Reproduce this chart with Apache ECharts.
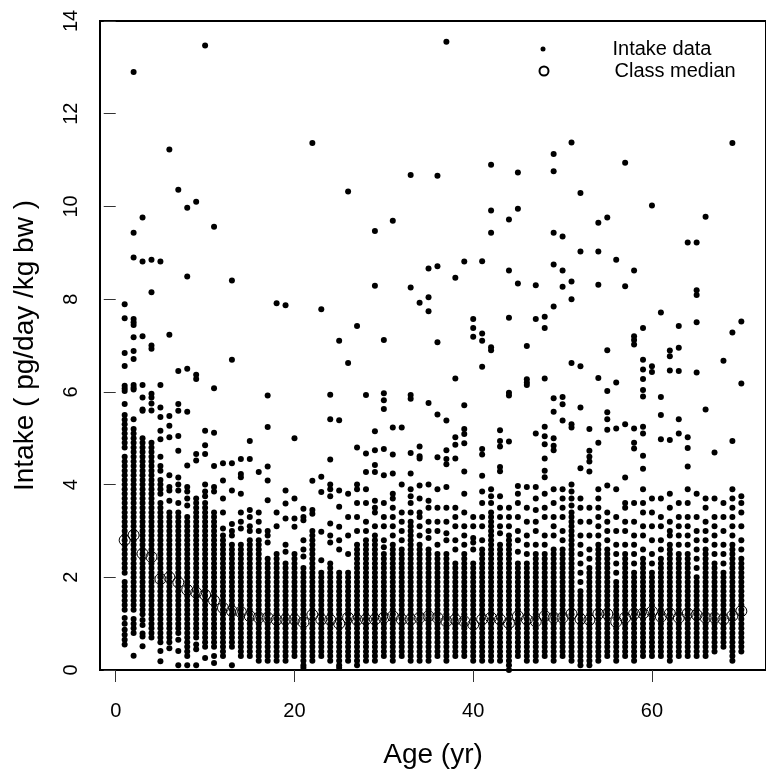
<!DOCTYPE html>
<html><head><meta charset="utf-8">
<script src="https://cdn.jsdelivr.net/npm/echarts@6/dist/echarts.min.js"></script>
<style>html,body{margin:0;padding:0;background:#fff}#chart{width:766px;height:774px}</style>
</head><body><div id="chart"></div>
<script>
const ages = [1,2,3,4,5,6,7,8,9,10,11,12,13,14,15,16,17,18,19,20,21,22,23,24,25,26,27,28,29,30,31,32,33,34,35,36,37,38,39,40,41,42,43,44,45,46,47,48,49,50,51,52,53,54,55,56,57,58,59,60,61,62,63,64,65,66,67,68,69,70];
const medians = [2.80,2.91,2.51,2.44,1.96,2.00,1.89,1.73,1.67,1.62,1.50,1.34,1.27,1.25,1.16,1.13,1.13,1.08,1.09,1.09,1.03,1.19,1.09,1.08,1.00,1.13,1.08,1.09,1.09,1.13,1.16,1.09,1.09,1.13,1.16,1.13,1.05,1.09,1.05,0.98,1.09,1.13,1.09,1.01,1.16,1.09,1.05,1.16,1.13,1.13,1.21,1.10,1.08,1.21,1.21,1.04,1.13,1.21,1.22,1.26,1.15,1.22,1.13,1.22,1.19,1.13,1.13,1.09,1.17,1.27];
const xTickValues = [0,20,40,60];
const seriesNames = ['Intake data','Class median'];
const intakeByAge = [
[7.89,7.59,6.84,6.56,6.13,6.07,6.02,5.74,5.5,5.4,5.3,5.2,5.1,5.0,4.9,4.8,4.6,4.5,4.4,4.3,4.2,4.1,4.0,3.9,3.8,3.7,3.6,3.5,3.4,3.3,3.2,3.1,3.0,2.9,2.8,2.7,2.6,2.5,2.4,2.3,2.2,2.1,1.9,1.8,1.7,1.6,1.5,1.4,1.3,1.12,1.0,0.87,0.76,0.65,0.55],
[12.9,9.43,8.9,7.57,7.5,7.44,7.18,6.88,6.71,6.15,6.09,6.05,5.41,5.2,5.1,5.0,4.9,4.8,4.7,4.6,4.5,4.4,4.3,4.2,4.1,4.0,3.9,3.8,3.7,3.6,3.5,3.4,3.3,3.2,3.1,3.0,2.9,2.8,2.7,2.6,2.5,2.4,2.3,2.2,2.1,2.0,1.9,1.8,1.7,1.6,1.5,1.4,1.3,1.1,1.0,0.9,0.8,0.31],
[9.76,8.81,7.2,6.15,5.88,5.62,5.59,5.0,4.9,4.8,4.7,4.6,4.5,4.4,4.3,4.2,4.1,4.0,3.9,3.8,3.7,3.6,3.5,3.4,3.3,3.2,3.1,3.0,2.9,2.8,2.7,2.6,2.5,2.4,2.3,2.2,2.1,2.0,1.9,1.8,1.7,1.6,1.5,1.4,1.3,1.2,1.08,0.97,0.79,0.72,0.51],
[8.85,8.15,7.0,6.93,5.96,5.88,5.75,5.6,4.9,4.8,4.7,4.6,4.5,4.4,4.3,4.2,4.1,4.0,3.9,3.8,3.7,3.6,3.5,3.4,3.3,3.2,3.1,3.0,2.9,2.8,2.7,2.6,2.5,2.4,2.3,2.2,2.1,2.0,1.9,1.8,1.7,1.6,1.5,1.4,1.3,1.2,1.1,1.0,0.9,0.8,0.7],
[8.81,6.15,5.66,5.46,5.16,4.98,4.6,4.4,4.3,4.1,4.0,3.9,3.8,3.6,3.5,3.4,3.3,3.2,3.1,3.0,2.9,2.8,2.7,2.6,2.5,2.4,2.3,2.2,2.1,2.0,1.9,1.8,1.7,1.6,1.5,1.4,1.3,1.2,1.1,1.0,0.9,0.8,0.7,0.6,0.41,0.19],
[11.23,7.23,5.48,5.27,5.02,4.2,3.95,3.87,3.65,3.4,3.3,3.2,3.1,3.0,2.9,2.8,2.7,2.6,2.5,2.4,2.3,2.2,2.1,2.0,1.9,1.8,1.7,1.6,1.5,1.4,1.3,1.2,1.1,1.0,0.9,0.8,0.7,0.6,0.47],
[10.36,6.45,5.74,5.59,5.05,4.73,4.15,4.0,3.87,3.6,3.4,3.3,3.2,3.1,3.0,2.9,2.8,2.7,2.6,2.5,2.4,2.3,2.2,2.1,2.0,1.9,1.8,1.7,1.6,1.5,1.4,1.3,1.2,1.1,1.0,0.9,0.8,0.65,0.41,0.1],
[9.97,8.49,6.5,5.57,4.41,3.95,3.85,3.7,3.55,3.3,3.2,3.1,3.0,2.9,2.8,2.7,2.6,2.5,2.4,2.3,2.2,2.1,2.0,1.9,1.8,1.7,1.6,1.5,1.4,1.3,1.2,1.1,1.0,0.9,0.8,0.7,0.6,0.5,0.4,0.3,0.1],
[10.1,6.37,6.28,4.66,4.52,3.7,3.6,3.5,3.4,3.3,3.2,3.1,3.0,2.9,2.8,2.7,2.6,2.5,2.4,2.3,2.2,2.1,2.0,1.9,1.8,1.7,1.6,1.5,1.4,1.3,1.2,1.1,1.0,0.9,0.8,0.7,0.55,0.45,0.1],
[13.47,5.16,4.85,4.66,4.0,3.85,3.75,3.6,3.5,3.4,3.3,3.2,3.1,3.0,2.9,2.8,2.7,2.6,2.5,2.4,2.3,2.2,2.1,2.0,1.9,1.8,1.7,1.6,1.5,1.4,1.3,1.2,1.1,1.0,0.9,0.8,0.7,0.6,0.5,0.26],
[9.56,6.08,5.12,4.4,3.95,3.85,3.4,3.3,3.2,3.1,3.0,2.9,2.8,2.7,2.6,2.5,2.4,2.3,2.2,2.1,2.0,1.9,1.8,1.7,1.6,1.5,1.4,1.3,1.2,1.1,1.0,0.9,0.8,0.7,0.6,0.5,0.3,0.15],
[4.46,4.09,3.7,3.4,3.05,2.9,2.8,2.7,2.6,2.5,2.4,2.3,2.2,2.1,2.0,1.9,1.8,1.7,1.6,1.5,1.4,1.3,1.2,1.1,1.0,0.9,0.8,0.7,0.6,0.5,0.4,0.3],
[8.4,6.69,4.46,3.87,3.15,3.0,2.9,2.7,2.6,2.5,2.4,2.3,2.2,2.1,2.0,1.9,1.8,1.7,1.6,1.5,1.4,1.3,1.2,1.1,1.0,0.9,0.8,0.7,0.6,0.5,0.1],
[4.55,4.23,4.16,3.8,3.4,3.2,3.05,2.7,2.6,2.5,2.4,2.3,2.2,2.1,2.0,1.9,1.8,1.7,1.6,1.5,1.4,1.3,1.2,1.1,1.0,0.9,0.8,0.7,0.6,0.5,0.4,0.3],
[4.94,4.55,3.45,3.3,3.1,3.0,2.8,2.7,2.6,2.5,2.4,2.3,2.2,2.1,2.0,1.9,1.8,1.7,1.6,1.5,1.4,1.3,1.2,1.1,1.0,0.9,0.8,0.7,0.6,0.5,0.4,0.3],
[4.27,3.4,3.2,3.0,2.8,2.7,2.6,2.5,2.4,2.3,2.2,2.1,2.0,1.9,1.8,1.7,1.6,1.5,1.4,1.3,1.2,1.1,1.0,0.9,0.8,0.7,0.6,0.5,0.4,0.3,0.2],
[5.92,5.24,4.39,4.09,3.66,3.0,2.9,2.75,2.4,2.3,2.2,2.1,2.0,1.9,1.8,1.7,1.6,1.5,1.4,1.3,1.2,1.1,1.0,0.9,0.8,0.7,0.6,0.5,0.4,0.3,0.2],
[7.91,3.4,3.1,2.5,2.4,2.3,2.2,2.1,2.0,1.9,1.8,1.7,1.6,1.5,1.4,1.3,1.2,1.1,1.0,0.9,0.8,0.7,0.6,0.5,0.4,0.3,0.2],
[7.87,3.87,3.59,3.27,2.7,2.55,2.3,2.2,2.1,2.0,1.9,1.8,1.7,1.6,1.5,1.4,1.3,1.2,1.1,1.0,0.9,0.8,0.7,0.6,0.5,0.4,0.3,0.2],
[5.0,3.7,3.27,3.09,2.5,2.4,2.3,2.2,2.1,2.0,1.9,1.8,1.7,1.6,1.5,1.4,1.3,1.2,1.1,1.0,0.9,0.8,0.7,0.6,0.5,0.4,0.3],
[3.48,3.3,3.23,2.8,2.6,2.45,2.2,2.1,2.0,1.9,1.8,1.7,1.6,1.5,1.4,1.3,1.2,1.1,1.0,0.9,0.8,0.7,0.6,0.5,0.4,0.3,0.2,0.1,0.05],
[11.37,4.08,3.45,3.37,3.0,2.9,2.8,2.7,2.6,2.5,2.4,2.3,2.2,2.1,2.0,1.9,1.8,1.7,1.6,1.5,1.4,1.3,1.2,1.1,1.0,0.9,0.8,0.7,0.6,0.5,0.4,0.3,0.2],
[7.78,4.17,3.84,2.98,2.37,2.1,2.0,1.9,1.8,1.7,1.6,1.5,1.4,1.3,1.2,1.1,1.0,0.9,0.8,0.7,0.6,0.5,0.4,0.3],
[5.94,5.41,4.54,4.0,3.9,3.75,3.16,2.9,2.75,2.3,2.2,2.1,2.0,1.9,1.8,1.7,1.6,1.5,1.4,1.3,1.2,1.1,1.0,0.9,0.8,0.7,0.6,0.5,0.4,0.3,0.2],
[7.1,5.39,3.87,3.52,3.09,2.8,2.6,2.1,2.0,1.9,1.8,1.7,1.6,1.5,1.4,1.3,1.2,1.1,1.0,0.9,0.8,0.7,0.6,0.5,0.4,0.3,0.2,0.1,0.05],
[10.32,6.62,3.8,3.3,2.9,2.5,2.1,2.0,1.9,1.8,1.7,1.6,1.5,1.4,1.3,1.2,1.1,1.0,0.9,0.8,0.7,0.6,0.5,0.4,0.3,0.2],
[7.42,4.8,4.0,3.9,3.6,3.3,3.0,2.7,2.6,2.5,2.4,2.3,2.2,2.1,2.0,1.9,1.8,1.7,1.6,1.5,1.4,1.3,1.2,1.1,1.0,0.9,0.8,0.7,0.6,0.5,0.4,0.3,0.2,0.1],
[5.93,4.67,4.27,3.9,3.6,3.2,3.0,2.8,2.7,2.6,2.5,2.4,2.3,2.2,2.1,2.0,1.9,1.8,1.7,1.6,1.5,1.4,1.3,1.2,1.1,1.0,0.9,0.8,0.7,0.6,0.5,0.4,0.3,0.2],
[9.47,8.29,5.15,4.74,4.42,4.27,3.65,3.5,3.4,3.1,2.9,2.8,2.7,2.6,2.5,2.4,2.3,2.2,2.1,2.0,1.9,1.8,1.7,1.6,1.5,1.4,1.3,1.2,1.1,1.0,0.9,0.8,0.7,0.6,0.5,0.4,0.3,0.2],
[7.12,5.97,5.82,5.63,4.77,4.2,3.6,3.3,3.1,2.8,2.65,2.5,2.4,2.3,2.2,2.1,2.0,1.9,1.8,1.7,1.6,1.5,1.4,1.3,1.2,1.1,1.0,0.9,0.8,0.7,0.6,0.5,0.4,0.3],
[9.69,5.23,4.65,4.24,3.8,3.7,3.5,3.3,3.1,2.9,2.7,2.6,2.5,2.4,2.3,2.2,2.1,2.0,1.9,1.8,1.7,1.6,1.5,1.4,1.3,1.2,1.1,1.0,0.9,0.8,0.7,0.6,0.5,0.4,0.3,0.2],
[5.23,4.0,3.4,3.2,3.0,2.8,2.6,2.5,2.4,2.3,2.2,2.1,2.0,1.9,1.8,1.7,1.6,1.5,1.4,1.3,1.2,1.1,1.0,0.9,0.8,0.7,0.6,0.5,0.4,0.3],
[10.68,8.25,5.93,5.85,4.68,4.24,3.9,3.75,3.6,3.4,3.2,3.1,3.0,2.9,2.8,2.7,2.6,2.5,2.4,2.3,2.2,2.1,2.0,1.9,1.8,1.7,1.6,1.5,1.4,1.3,1.2,1.1,1.0,0.9,0.8,0.7,0.6,0.5,0.4,0.3,0.2],
[7.92,4.82,4.61,4.56,3.98,3.7,3.4,3.3,3.1,2.9,2.7,2.6,2.5,2.4,2.3,2.2,2.1,2.0,1.9,1.8,1.7,1.6,1.5,1.4,1.3,1.2,1.1,1.0,0.9,0.8,0.7,0.6,0.5,0.4,0.3,0.2],
[8.66,8.04,7.74,5.76,4.0,3.65,3.5,3.2,3.0,2.85,2.6,2.5,2.4,2.3,2.2,2.1,2.0,1.9,1.8,1.7,1.6,1.5,1.4,1.3,1.2,1.1,1.0,0.9,0.8,0.7,0.6,0.5,0.4,0.3,0.2],
[10.66,8.71,7.07,5.51,4.59,3.9,3.5,3.2,3.0,2.7,2.5,2.4,2.3,2.2,2.1,2.0,1.9,1.8,1.7,1.6,1.5,1.4,1.3,1.2,1.1,1.0,0.9,0.8,0.7,0.6,0.5,0.4,0.3],
[13.55,5.38,4.74,4.55,4.44,3.95,3.5,3.2,2.95,2.8,2.5,2.4,2.3,2.2,2.1,2.0,1.9,1.8,1.7,1.6,1.5,1.4,1.3,1.2,1.1,1.0,0.9,0.8,0.7,0.6,0.5,0.4,0.3,0.2],
[8.46,6.29,5.02,4.86,4.56,3.5,3.3,3.1,2.8,2.6,2.3,2.2,2.1,2.0,1.9,1.8,1.7,1.6,1.5,1.4,1.3,1.2,1.1,1.0,0.9,0.8,0.7,0.6,0.5,0.4,0.3],
[8.81,5.71,5.2,5.09,4.89,4.28,3.8,3.4,3.1,2.9,2.7,2.5,2.4,2.3,2.2,2.1,2.0,1.9,1.8,1.7,1.6,1.5,1.4,1.3,1.2,1.1,1.0,0.9,0.8,0.7,0.6,0.5,0.4,0.3],
[7.57,7.38,7.19,3.3,3.1,2.85,2.75,2.6,2.3,2.2,2.1,2.0,1.9,1.8,1.7,1.6,1.5,1.4,1.3,1.2,1.1,1.0,0.9,0.8,0.7,0.6,0.5,0.4,0.3,0.2],
[8.82,7.26,7.1,6.54,4.77,4.65,4.19,3.85,3.6,3.3,3.1,2.8,2.6,2.5,2.4,2.3,2.2,2.1,2.0,1.9,1.8,1.7,1.6,1.5,1.4,1.3,1.2,1.1,1.0,0.9,0.8,0.7,0.6,0.5,0.4,0.3,0.2],
[10.9,9.91,9.43,6.96,6.9,3.9,3.75,3.6,3.4,3.3,3.2,3.1,3.0,2.9,2.8,2.7,2.6,2.5,2.4,2.3,2.2,2.1,2.0,1.9,1.8,1.7,1.6,1.5,1.4,1.3,1.2,1.1,1.0,0.9,0.8,0.7,0.6,0.5,0.4,0.3,0.2],
[5.17,4.94,4.82,4.38,4.29,3.75,3.5,3.3,3.1,2.95,2.7,2.6,2.5,2.4,2.3,2.2,2.1,2.0,1.9,1.8,1.7,1.6,1.5,1.4,1.3,1.2,1.1,1.0,0.9,0.8,0.7,0.6,0.5,0.4,0.3,0.2],
[9.72,8.62,7.6,5.98,5.92,4.93,3.5,3.3,3.1,2.9,2.8,2.7,2.6,2.5,2.4,2.3,2.2,2.1,2.0,1.9,1.8,1.7,1.6,1.5,1.4,1.3,1.2,1.1,1.0,0.9,0.8,0.7,0.6,0.5,0.4,0.3,0.2,0.1,0.0],
[10.73,9.95,8.34,3.97,3.8,3.6,3.3,3.0,2.8,2.55,2.3,2.2,2.1,2.0,1.9,1.8,1.7,1.6,1.5,1.4,1.3,1.2,1.1,1.0,0.9,0.8,0.7,0.6,0.5,0.4,0.3],
[6.99,6.27,6.2,6.15,3.95,3.5,3.2,2.9,2.7,2.5,2.3,2.2,2.1,2.0,1.9,1.8,1.7,1.6,1.5,1.4,1.3,1.2,1.1,1.0,0.9,0.8,0.7,0.6,0.5,0.4,0.3,0.2],
[8.3,7.57,5.1,3.95,3.7,3.45,3.2,3.0,2.7,2.5,2.4,2.3,2.2,2.1,2.0,1.9,1.8,1.7,1.6,1.5,1.4,1.3,1.2,1.1,1.0,0.9,0.8,0.7,0.6,0.5,0.4,0.3,0.2],
[7.62,7.38,6.29,5.25,5.04,4.87,4.56,4.3,4.16,3.8,3.5,3.3,2.9,2.7,2.5,2.4,2.3,2.2,2.1,2.0,1.9,1.8,1.7,1.6,1.5,1.4,1.3,1.2,1.1,1.0,0.9,0.8,0.7,0.6,0.5,0.4,0.3],
[11.13,10.76,9.43,8.75,7.84,5.86,5.57,5.0,4.84,4.74,3.9,3.6,3.3,3.1,2.9,2.6,2.5,2.4,2.3,2.2,2.1,2.0,1.9,1.8,1.7,1.6,1.5,1.4,1.3,1.2,1.1,1.0,0.9,0.8,0.7,0.6,0.5,0.4,0.3,0.2],
[9.35,8.62,8.27,5.89,5.73,5.38,3.9,3.7,3.5,3.3,3.0,2.8,2.6,2.5,2.4,2.3,2.2,2.1,2.0,1.9,1.8,1.7,1.6,1.5,1.4,1.3,1.2,1.1,1.0,0.9,0.8,0.7,0.6,0.5,0.4,0.3],
[11.38,8.38,8.0,6.62,5.3,5.23,4.0,3.85,3.7,3.55,3.4,3.3,3.2,3.1,3.0,2.9,2.8,2.7,2.6,2.5,2.4,2.3,2.2,2.1,2.0,1.9,1.8,1.7,1.6,1.5,1.4,1.3,1.2,1.1,1.0,0.9,0.8,0.7,0.6,0.5,0.4,0.3,0.2],
[10.29,9.03,6.55,5.66,4.35,3.7,3.5,3.2,2.9,2.7,2.5,2.3,2.1,1.9,1.7,1.6,1.5,1.4,1.3,1.2,1.1,1.0,0.9,0.8,0.7,0.6,0.5,0.4,0.3,0.2,0.1],
[5.2,4.73,4.6,4.5,4.28,3.5,3.2,2.9,2.6,2.4,2.2,2.1,2.0,1.9,1.8,1.7,1.6,1.5,1.4,1.3,1.2,1.1,1.0,0.9,0.8,0.7,0.6,0.5,0.4,0.3,0.2,0.1],
[9.65,9.03,8.31,6.3,4.9,3.9,3.7,3.5,3.3,3.1,2.9,2.7,2.6,2.5,2.4,2.3,2.2,2.1,2.0,1.9,1.8,1.7,1.6,1.5,1.4,1.3,1.2,1.1,1.0,0.9,0.8,0.7,0.6,0.5,0.4,0.3,0.2],
[9.76,6.9,6.02,5.56,5.41,5.18,3.98,3.4,3.2,3.0,2.8,2.6,2.5,2.4,2.3,2.2,2.1,2.0,1.9,1.8,1.7,1.6,1.5,1.4,1.3,1.2,1.1,1.0,0.9,0.8,0.7,0.6,0.5,0.4,0.3],
[8.85,6.2,5.21,3.9,3.3,3.0,2.7,2.5,2.3,2.1,1.9,1.8,1.7,1.6,1.5,1.4,1.3,1.2,1.1,1.0,0.9,0.8,0.7,0.6,0.5,0.4,0.3,0.2],
[10.94,8.28,5.3,4.15,3.6,3.5,3.2,3.0,2.7,2.5,2.4,2.3,2.2,2.1,2.0,1.9,1.8,1.7,1.6,1.5,1.4,1.3,1.2,1.1,1.0,0.9,0.8,0.7,0.6,0.5,0.4,0.3],
[8.62,7.2,7.12,7.02,5.21,4.9,4.78,3.6,3.2,2.9,2.7,2.5,2.3,2.1,2.0,1.9,1.8,1.7,1.6,1.5,1.4,1.3,1.2,1.1,1.0,0.9,0.8,0.7,0.6,0.5,0.4,0.3,0.2],
[7.38,6.69,6.48,6.28,6.04,5.9,5.25,5.1,4.62,4.34,3.9,3.6,3.4,3.1,2.9,2.6,2.4,2.3,2.2,2.1,2.0,1.9,1.8,1.7,1.6,1.5,1.4,1.3,1.2,1.1,1.0,0.9,0.8,0.7,0.6,0.5,0.4,0.3],
[10.02,6.55,6.43,3.7,3.4,3.1,2.8,2.5,2.3,2.1,2.0,1.9,1.8,1.7,1.6,1.5,1.4,1.3,1.2,1.1,1.0,0.9,0.8,0.7,0.6,0.5,0.4,0.3],
[7.71,5.89,5.5,4.98,3.7,3.3,3.1,2.8,2.6,2.4,2.3,2.2,2.1,2.0,1.9,1.8,1.7,1.6,1.5,1.4,1.3,1.2,1.1,1.0,0.9,0.8,0.7,0.6,0.5,0.4,0.3],
[6.89,6.77,6.46,4.96,3.8,3.5,3.2,3.0,2.9,2.7,2.6,2.5,2.4,2.3,2.2,2.1,2.0,1.9,1.8,1.7,1.6,1.5,1.4,1.3,1.2,1.1,1.0,0.9,0.8,0.7,0.6,0.5,0.4,0.3,0.2],
[7.42,6.95,6.45,5.41,5.1,3.6,3.3,3.1,2.9,2.7,2.5,2.4,2.3,2.2,2.1,2.0,1.9,1.8,1.7,1.6,1.5,1.4,1.3,1.2,1.1,1.0,0.9,0.8,0.7,0.6,0.5,0.4,0.3],
[9.22,5.02,4.79,4.39,3.9,3.6,3.3,3.1,2.9,2.7,2.5,2.4,2.3,2.2,2.1,2.0,1.9,1.8,1.7,1.6,1.5,1.4,1.3,1.2,1.1,1.0,0.9,0.8,0.7,0.6,0.5,0.4,0.3],
[9.22,8.19,8.09,7.5,6.42,3.8,3.3,3.0,2.8,2.6,2.4,2.2,2.0,1.9,1.8,1.7,1.6,1.5,1.4,1.3,1.2,1.1,1.0,0.9,0.8,0.7,0.6,0.5,0.4,0.3],
[9.78,5.62,3.7,3.5,3.2,3.0,2.8,2.6,2.5,2.4,2.3,2.2,2.1,2.0,1.9,1.8,1.7,1.6,1.5,1.4,1.3,1.2,1.1,1.0,0.9,0.8,0.7,0.6,0.5,0.4,0.3],
[4.69,3.7,3.3,3.1,2.9,2.7,2.5,2.3,2.2,2.1,2.0,1.9,1.8,1.7,1.6,1.5,1.4,1.3,1.2,1.1,1.0,0.9,0.8,0.7,0.6,0.5,0.4],
[6.67,3.6,3.3,3.0,2.7,2.5,2.3,2.1,2.0,1.9,1.8,1.7,1.6,1.5,1.4,1.3,1.2,1.1,1.0,0.9,0.8,0.7,0.6,0.5],
[11.37,7.28,4.94,3.9,3.7,3.5,3.3,3.1,2.9,2.7,2.6,2.5,2.4,2.3,2.2,2.1,2.0,1.9,1.8,1.7,1.6,1.5,1.4,1.3,1.2,1.1,1.0,0.9,0.8,0.7,0.6,0.5,0.4,0.3,0.2],
[7.52,6.18,3.75,3.6,3.4,3.1,2.8,2.6,2.4,2.3,2.2,2.1,2.0,1.9,1.8,1.7,1.6,1.5,1.4,1.3,1.2,1.1,1.0,0.9,0.8,0.7,0.6,0.5,0.4]
];

const intakePoints = [];
ages.forEach((a, i) => intakeByAge[i].forEach(v => intakePoints.push([a, v])));
const medianPoints = ages.map((a, i) => [a, medians[i]]);

const FONT = '"Liberation Sans", Arial, Helvetica, sans-serif';
const chart = echarts.init(document.getElementById('chart'), null, {renderer: 'canvas'});
chart.setOption({
  animation: false,
  backgroundColor: '#fff',
  textStyle: {fontFamily: FONT},
  grid: {left: 100, top: 21, right: -5, bottom: 100, show: true, borderColor: '#000', borderWidth: 2, backgroundColor: 'transparent'},
  xAxis: {
    type: 'value', min: -1.76, max: 72.76,
    axisLine: {show: false}, splitLine: {show: false},
    axisTick: {show: true, length: 12, customValues: xTickValues, lineStyle: {color: '#333', width: 1}},
    axisLabel: {customValues: xTickValues, fontSize: 20, color: '#000', margin: 31, fontFamily: FONT},
    name: 'Age (yr)', nameLocation: 'middle', nameGap: 71,
    nameTextStyle: {fontSize: 28, color: '#000', fontFamily: FONT}
  },
  yAxis: {
    type: 'value', min: 0, max: 14, interval: 2,
    axisLine: {show: false}, splitLine: {show: false},
    axisTick: {show: true, length: 12, lineStyle: {color: '#333', width: 1}},
    axisLabel: {rotate: 90, fontSize: 20, color: '#000', margin: 19, fontFamily: FONT},
    name: 'Intake ( pg/day /kg bw )', nameLocation: 'middle', nameGap: 61, nameRotate: 90,
    nameTextStyle: {fontSize: 28, color: '#000', fontFamily: FONT}
  },
  legend: [
    {data: [{name: seriesNames[0], icon: 'circle'}], left: 540.5, top: 39, padding: 0, itemWidth: 5, itemHeight: 5,
     selectedMode: false, textStyle: {fontSize: 20, color: '#000', fontFamily: FONT, padding: [0, 0, 0, 62]}},
    {data: [{name: seriesNames[1], icon: 'circle'}], left: 538.5, top: 61, padding: 0, itemWidth: 9, itemHeight: 9,
     selectedMode: false, textStyle: {fontSize: 20, color: '#000', fontFamily: FONT, padding: [0, 0, 0, 61]}}
  ],
  series: [
    {name: seriesNames[0], type: 'scatter', data: intakePoints, symbol: 'circle', symbolSize: 6,
     itemStyle: {color: '#000', opacity: 1}, silent: true, z: 2},
    {name: seriesNames[1], type: 'scatter', data: medianPoints, symbol: 'circle', symbolSize: 11,
     itemStyle: {color: 'rgba(255,255,255,0)', borderColor: '#000', borderWidth: 1, opacity: 1}, silent: true, z: 3}
  ]
});
</script></body></html>
